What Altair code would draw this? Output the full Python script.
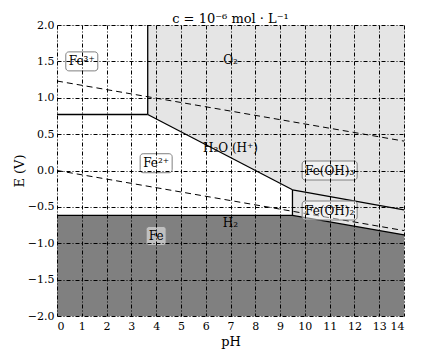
import altair as alt
import pandas as pd

# ---- data ----
# region boundaries
fe_lower_ph = [0.0, 9.5, 14.0]
fe_lower_e = [-0.617, -0.617, -0.884]

hyd_ph = [3.66, 9.5, 9.5001, 14.0]
hyd_lower_e = [0.77, -0.265, -0.617, -0.884]

# solid boundary segments
seg_id = [1, 1, 2, 2, 3, 3, 4, 4, 5, 5, 6, 6, 6]
seg_ph = [0.0, 3.66, 3.66, 3.66, 3.66, 9.5, 9.5, 14.0, 9.5, 9.5, 0.0, 9.5, 14.0]
seg_e = [0.77, 0.77, 0.77, 2.0, 0.77, -0.265, -0.265, -0.54, -0.265, -0.617, -0.617, -0.617, -0.884]

# water stability lines (dashed)
water_id = ["O2", "O2", "H2", "H2"]
water_ph = [0.0, 14.0, 0.0, 14.0]
water_e = [1.23, 0.404, 0.0, -0.826]

# species labels
lab_text = ["Fe³⁺", "Fe²⁺", "Fe(OH)₃", "Fe(OH)₂", "Fe", "O₂", "H₂O (H⁺)", "H₂"]
lab_ph = [1.0, 4.0, 11.0, 11.0, 4.0, 7.0, 7.0, 7.0]
lab_e = [1.5, 0.1, 0.0, -0.55, -0.9, 1.52, 0.31, -0.72]
lab_boxed = [True, True, True, True, True, False, False, False]

x_ticks = list(range(0, 15))
y_ticks = [-2.0, -1.5, -1.0, -0.5, 0.0, 0.5, 1.0, 1.5, 2.0]

# ---- style ----
FONT = "DejaVu Serif"
box_w = {"Fe³⁺": 32, "Fe²⁺": 32, "Fe(OH)₃": 55, "Fe(OH)₂": 55, "Fe": 20}
box_h = 19
SYM_SIZE = 400  # unit in path = sqrt(400)/2 = 10 px


def rounded_rect(wpx, hpx, rpx=3):
    u = (SYM_SIZE ** 0.5) / 2
    w, h, r = wpx / 2 / u, hpx / 2 / u, rpx / u
    return (f"M {-w + r} {-h} L {w - r} {-h} A {r} {r} 0 0 1 {w} {-h + r} "
            f"L {w} {h - r} A {r} {r} 0 0 1 {w - r} {h} "
            f"L {-w + r} {h} A {r} {r} 0 0 1 {-w} {h - r} "
            f"L {-w} {-h + r} A {r} {r} 0 0 1 {-w + r} {-h} Z")


xscale = alt.Scale(domain=[0, 14], nice=False, zero=False)
yscale = alt.Scale(domain=[-2, 2], nice=False, zero=False)

axis_common = dict(
    grid=True, gridColor="black", gridDash=[4, 2, 1, 2], gridWidth=1, gridOpacity=1,
    ticks=False, labelFont=FONT, labelFontSize=11, labelColor="black", labelOverlap=False,
    titleFont=FONT, titleFontSize=13, titleFontWeight="normal", titleColor="black",
    domain=False, zindex=1,
)

X = alt.X("pH:Q", scale=xscale,
          axis=alt.Axis(values=x_ticks, format="d", title="pH", labelPadding=4,
                        titlePadding=4, **axis_common))
Y = alt.Y("E:Q", scale=yscale, stack=None,
          axis=alt.Axis(values=y_ticks, format=".1f", title="E (V)", labelPadding=3,
                        titlePadding=1, **axis_common))

# regions
hyd_df = pd.DataFrame({"pH": hyd_ph, "E": hyd_lower_e, "top": [2.0] * len(hyd_ph)})
hyd_area = alt.Chart(hyd_df).mark_area(color="#e5e5e5", opacity=1).encode(
    x=X, y=Y, y2="top:Q")

fe_df = pd.DataFrame({"pH": fe_lower_ph, "E": fe_lower_e, "bot": [-2.0] * len(fe_lower_ph)})
fe_area = alt.Chart(fe_df).mark_area(color="#808080", opacity=1).encode(
    x=X, y=Y, y2="bot:Q")

seg_df = pd.DataFrame({"pH": seg_ph, "E": seg_e, "seg": seg_id, "o": list(range(len(seg_id)))})
seg_lines = alt.Chart(seg_df).mark_line(color="black", strokeWidth=1.3).encode(
    x=X, y=Y, detail="seg:N", order="o:Q")

water_df = pd.DataFrame({"pH": water_ph, "E": water_e, "line": water_id})
water_lines = alt.Chart(water_df).mark_line(color="black", strokeWidth=1, strokeDash=[6, 4]).encode(
    x=X, y=Y, detail="line:N")

lab_df = pd.DataFrame({"pH": lab_ph, "E": lab_e, "label": lab_text, "boxed": lab_boxed})
lab_df["shape"] = [rounded_rect(box_w[t], box_h) if b else "" for t, b in zip(lab_text, lab_boxed)]

boxes = alt.Chart(lab_df[lab_df["boxed"]]).mark_point(
    filled=True, fill="white", fillOpacity=0.5, stroke="#808080", strokeWidth=1,
    strokeOpacity=1, opacity=1, size=SYM_SIZE).encode(
    x=X, y=Y, shape=alt.Shape("shape:N", scale=None))

labels = alt.Chart(lab_df).mark_text(font=FONT, fontSize=12, color="black",
                                     align="center", baseline="middle").encode(
    x=X, y=Y, text="label:N")

chart = alt.layer(hyd_area, fe_area, seg_lines, water_lines, boxes, labels).properties(
    width=347, height=291,
    title=alt.Title("c = 10⁻⁶ mol · L⁻¹", font=FONT, fontSize=13, fontWeight="normal",
                    color="black", offset=-7),
).configure_view(stroke="black", strokeWidth=1.2).configure(background="white")

chart.save("out.html", embed_options={"renderer": "svg", "actions": False})
